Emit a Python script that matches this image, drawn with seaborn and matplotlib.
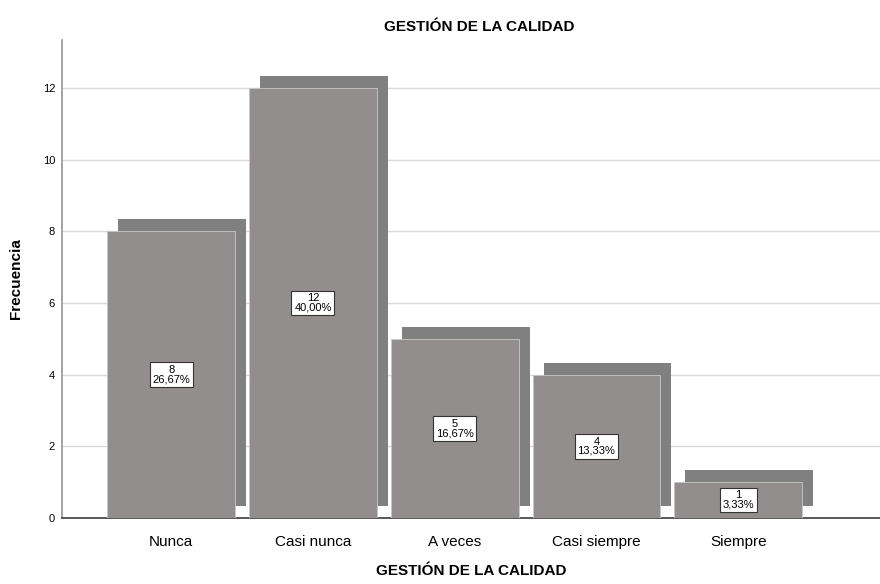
import matplotlib.pyplot as plt
import matplotlib.transforms as mtransforms
import seaborn as sns
import pandas as pd

categorias = ['Nunca', 'Casi nunca', 'A veces', 'Casi siempre', 'Siempre']
frecuencia = [8, 12, 5, 4, 1]
porcentaje = ['26,67%', '40,00%', '16,67%', '13,33%', '3,33%']

df = pd.DataFrame({'cat': categorias, 'n': frecuencia})

sns.set_theme(style='white')
plt.rcParams['font.family'] = ['Liberation Sans Narrow', 'Liberation Sans', 'DejaVu Sans']
plt.rcParams['text.color'] = 'black'
plt.rcParams['axes.labelcolor'] = 'black'
plt.rcParams['xtick.color'] = 'black'
plt.rcParams['ytick.color'] = 'black'

fig = plt.figure(figsize=(8.8, 5.84), dpi=100)
ax = fig.add_axes([0.0705, 0.113, 0.9295, 0.8185])

# shadow bars (offset a few pixels right/up)
sns.barplot(data=df, x='cat', y='n', color='#808080', saturation=1, width=0.9, ax=ax, zorder=2)
shadow_tr = mtransforms.offset_copy(ax.transData, fig=fig, x=11, y=12, units='dots')
for p in ax.patches:
    p.set_transform(shadow_tr)
    p.set_edgecolor('none')
n_shadow = len(ax.patches)

# front bars
sns.barplot(data=df, x='cat', y='n', color='#938e8e', saturation=1, width=0.9, ax=ax, zorder=3)
for p in ax.patches[n_shadow:]:
    p.set_edgecolor('#c8c8c8')
    p.set_linewidth(0.6)

front = ax.containers[-1]
labels = [f'{n}\n{pc}' for n, pc in zip(frecuencia, porcentaje)]
ax.bar_label(front, labels=labels, label_type='center', fontsize=8, linespacing=0.9,
             bbox=dict(boxstyle='square,pad=0.25', fc='white', ec='#333333', lw=0.8), zorder=5)

ax.set_xlim(-0.77, 5.0)
ax.set_ylim(0, 13.34)
ax.set_yticks([0, 2, 4, 6, 8, 10, 12])
ax.yaxis.grid(True, color='#d9d9d9', lw=1)
ax.set_axisbelow(True)
for s in ['top', 'right']:
    ax.spines[s].set_visible(False)
ax.spines['left'].set_color('#999999')
ax.spines['bottom'].set_color('#444444')
ax.tick_params(axis='y', labelsize=8, length=0, pad=5)
ax.tick_params(axis='x', labelsize=11, length=0, pad=12)

ax.set_xlabel('GESTIÓN DE LA CALIDAD', fontsize=11, fontweight='bold', labelpad=11)
ax.set_ylabel('Frecuencia', fontsize=11, fontweight='bold', labelpad=14)
fig.suptitle('GESTIÓN DE LA CALIDAD', fontsize=11, fontweight='bold', y=0.965, x=0.545)

fig.savefig('out.png', dpi=100)
